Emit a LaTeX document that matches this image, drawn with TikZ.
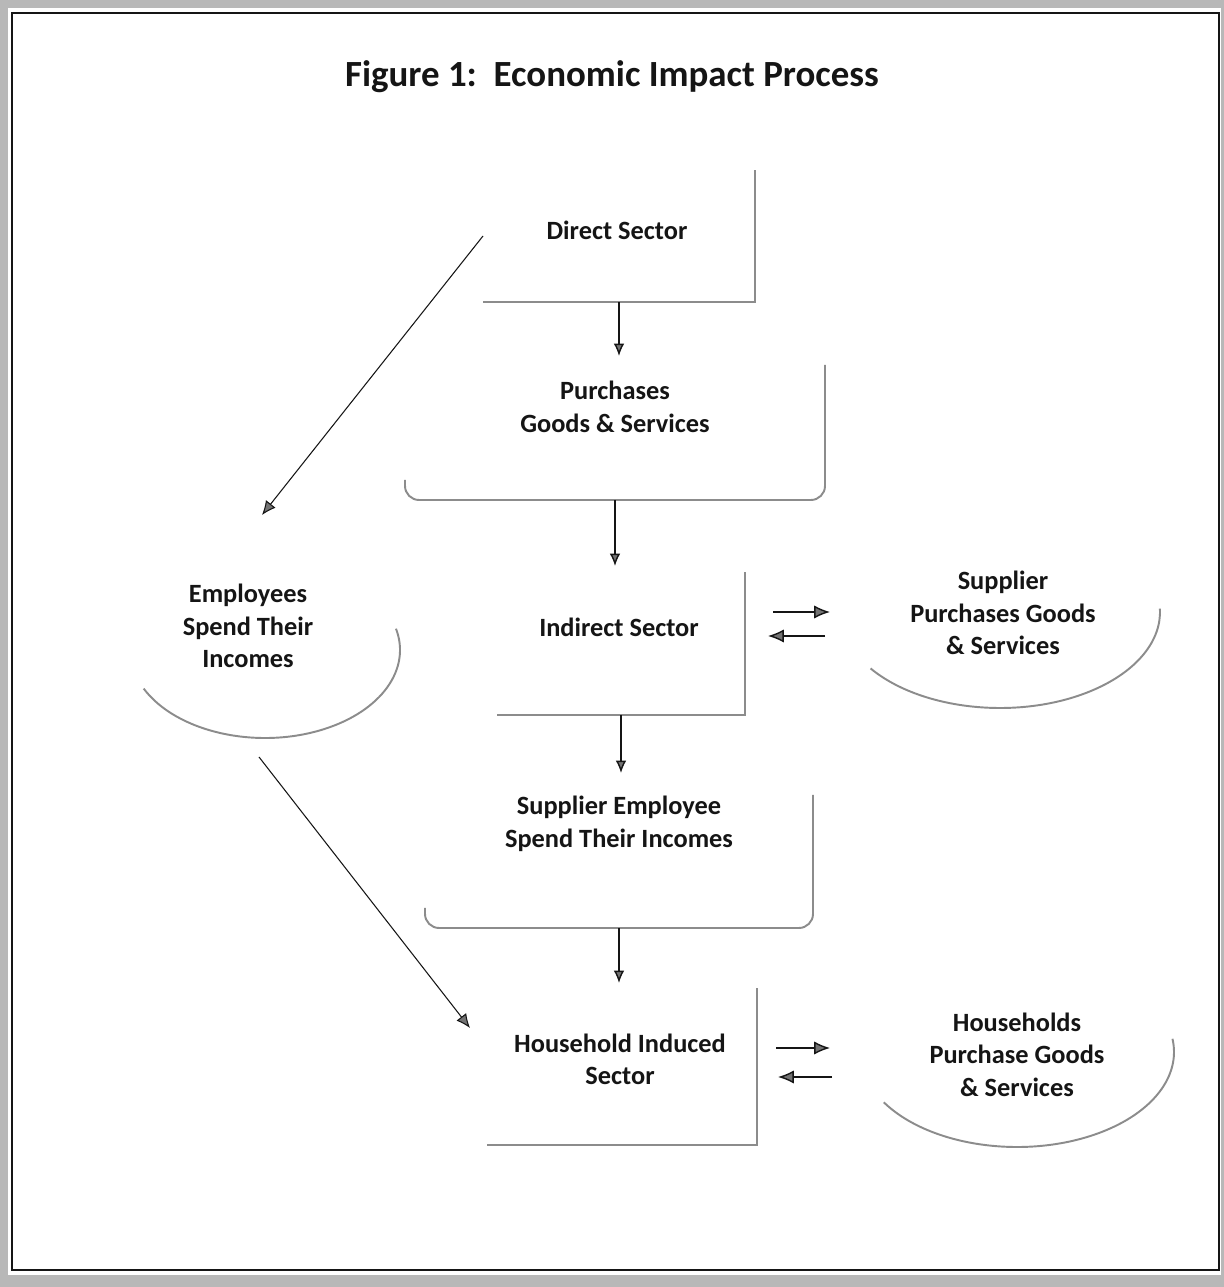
\documentclass[tikz,border=0pt]{standalone}
\usepackage{fontspec}
\setmainfont{Carlito}
\usetikzlibrary{arrows.meta,positioning,calc,shapes.geometric}
\definecolor{cInk}{HTML}{151515}
\definecolor{cShd}{HTML}{8C8C8C}
\definecolor{cBand}{HTML}{B8B8B8}
\tikzset{
  >={Latex[length=7pt,width=6pt,fill=black!55]},
  box/.style ={inner sep=0pt,outer sep=0pt},
  oval/.style={ellipse,inner sep=0pt,outer sep=0pt},
  txt/.style ={align=center,font=\fontsize{15}{18.5}\selectfont\bfseries,text=cInk},
  shd/.style ={draw=cShd,line width=1.1pt},
  ar/.style  ={->,line width=.8pt,cInk},
  har/.style ={-{Latex[length=9pt,width=7.5pt,fill=black!55]},line width=.8pt,cInk},
  sl/.style  ={-{Latex[length=8pt,width=7pt,fill=black!55]},line width=.6pt,cInk},
}

\begin{document}
\begin{tikzpicture}
% frame
\fill[cBand] (0,0) rectangle (24.48,25.74);
\fill[white] (0.16,0.24) rectangle (24.42,25.58);
\draw[cInk,line width=.9pt] (0.24,0.34) rectangle (24.38,25.48);
\useasboundingbox (0,0) rectangle (24.48,25.74);

\node[font=\fontsize{21}{25}\selectfont\bfseries,text=cInk] (ttl) at (12.24,24.20)
     {Figure 1:\ \ Economic Impact Process};

% centre column
\node[box,minimum width=5.44cm,minimum height=2.64cm] (ds) at (12.38,21.02) {};
\node[box,minimum width=8.40cm,minimum height=2.70cm] (ps) at (12.30,17.09) {};
\node[box,minimum width=4.96cm,minimum height=2.86cm] (is) at (12.42,12.87) {};
\node[box,minimum width=7.76cm,minimum height=2.66cm] (se) at (12.38,8.51)  {};
\node[box,minimum width=5.40cm,minimum height=3.14cm] (hs) at (12.44,4.41)  {};
\draw[shd] (ds.south west) -- (ds.south east) -- (ds.north east);
\draw[shd,rounded corners=8pt] ([yshift=.4cm]ps.south west) -- (ps.south west)
     -- (ps.south east) -- (ps.north east);
\draw[shd] (is.south west) -- (is.south east) -- (is.north east);
\draw[shd,rounded corners=8pt] ([yshift=.4cm]se.south west) -- (se.south west)
     -- (se.south east) -- (se.north east);
\draw[shd] (hs.south west) -- (hs.south east) -- (hs.north east);
\node[txt] (dst) at (12.34,21.14) {Direct Sector};
\node[txt] (pst) at (12.30,17.60) {Purchases\\Goods \& Services};
\node[txt] (ist) at (12.38,13.20) {Indirect Sector};
\node[txt] (set) at (12.38,9.26)  {Supplier Employee\\Spend Their Incomes};
\node[txt] (hst) at (12.40,4.55)  {Household Induced\\Sector};

% ovals
\node[oval,minimum width=5.40cm,minimum height=3.52cm] (em) at (5.30,12.74) {};
\node[oval,minimum width=6.40cm,minimum height=3.84cm] (sp) at (20.00,13.50) {};
\node[oval,minimum width=6.28cm,minimum height=3.80cm] (hh) at (20.34,4.70) {};
\draw[shd] (em.center) ++(206:2.70 and 1.76) arc[start angle=206,end angle=374,x radius=2.70cm,y radius=1.76cm];
\draw[shd] (sp.center) ++(216:3.20 and 1.92) arc[start angle=216,end angle=362,x radius=3.20cm,y radius=1.92cm];
\draw[shd] (hh.center) ++(212:3.14 and 1.90) arc[start angle=212,end angle=368,x radius=3.14cm,y radius=1.90cm];
\node[txt] (emt) at (4.96,13.22)  {Employees\\Spend Their\\Incomes};
\node[txt] (spt) at (20.06,13.48) {Supplier\\Purchases Goods\\\& Services};
\node[txt] (hht) at (20.34,4.65)  {Households\\Purchase Goods\\\& Services};

% flow
\draw[ar,shorten >=.18cm] (ds.south) -- (ds.south |- ps.north);
\draw[ar,shorten >=.12cm] (ps.south) -- (ps.south |- is.north);
\draw[ar,shorten >=.44cm] (is.south) -- (is.south |- se.north);
\draw[ar,shorten >=.10cm] (se.south) -- (se.south |- hs.north);

\coordinate (emtop) at (5.24,15.44);
\coordinate (hsin)  at (9.40,5.18);
\draw[sl] (ds.west) -- (emtop);
\draw[sl] ([xshift=-.12cm,yshift=-.38cm]em.south) -- (hsin);

\draw[har,shorten <=.56cm,shorten >=.20cm] (is.east |- sp.west) -- (sp.west);
\draw[har,shorten <=.30cm,shorten >=.46cm] ([yshift=-.48cm]sp.west) -- ([yshift=-.48cm]is.east |- sp.west);
\draw[har,shorten <=.38cm,shorten >=.60cm] ([yshift=.08cm]hs.east |- hh.west) -- ([yshift=.08cm]hh.west);
\draw[har,shorten <=.56cm,shorten >=.42cm] ([yshift=-.5cm]hh.west) -- ([yshift=-.5cm]hs.east |- hh.west);
\end{tikzpicture}
\end{document}
